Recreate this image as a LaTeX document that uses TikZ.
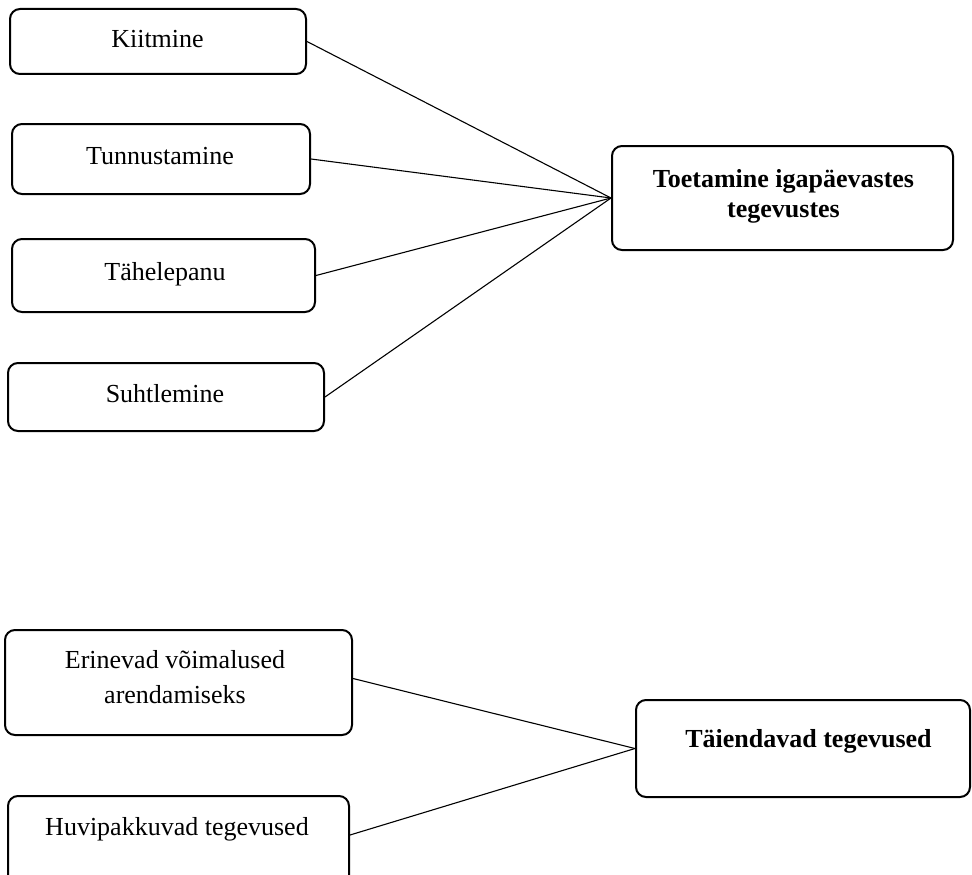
\documentclass[tikz,border=0pt]{standalone}
\usepackage{fontspec}
\setmainfont{Liberation Serif}
\begin{document}
\begin{tikzpicture}[x=1pt,y=-1pt,
  box/.style={draw=black, line width=2pt, rounded corners=10pt, inner sep=0pt},
  lbl/.style={inner sep=0pt, anchor=base, font=\fontsize{26}{30}\selectfont},
  link/.style={draw=black, line width=1.1pt}]
  \useasboundingbox (0,0) rectangle (972,875);
  \clip (0,0) rectangle (972,875);

  % upper group: boxes
  \node[box, minimum width=296pt, minimum height=65pt] (kiit) at (158,41.5) {};
  \node[box, minimum width=298pt, minimum height=70pt] (tunn) at (161,159) {};
  \node[box, minimum width=303pt, minimum height=73pt] (tahe) at (163.5,275.5) {};
  \node[box, minimum width=316pt, minimum height=68pt] (suht) at (166,397) {};
  \node[box, minimum width=341pt, minimum height=104pt] (toet) at (782.5,198) {};

  % upper group: texts
  \node[lbl] (kiit-t) at (157.5,48) {Kiitmine};
  \node[lbl] (tunn-t) at (160,164) {Tunnustamine};
  \node[lbl] (tahe-t) at (165,280) {Tähelepanu};
  \node[lbl] (suht-t) at (165,402) {Suhtlemine};
  \node[lbl, font=\fontsize{26}{30}\selectfont\bfseries] (toet-t) at (783.5,187)
    {\begin{tabular}[t]{@{}c@{}}Toetamine igapäevastes\\tegevustes\end{tabular}};

  % upper group: connectors
  \draw[link] (kiit.east) -- (toet.west);
  \draw[link] (tunn.east) -- (toet.west);
  \draw[link] (tahe.east) -- (toet.west);
  \draw[link] (suht.east) -- (toet.west);

  % lower group: boxes
  \node[box, minimum width=347pt, minimum height=105pt] (erin) at (178.5,682.5) {};
  \node[box, minimum width=341pt, minimum height=92pt] (huvi) at (178.5,842) {};
  \node[box, minimum width=334pt, minimum height=97pt] (taie) at (803,748.5) {};

  % lower group: texts
  \node[lbl, font=\fontsize{26}{35}\selectfont] (erin-t) at (175,668)
    {\begin{tabular}[t]{@{}c@{}}Erinevad võimalused\\arendamiseks\end{tabular}};
  \node[lbl] (huvi-t) at (177,835) {Huvipakkuvad tegevused};
  \node[lbl, font=\fontsize{26}{30}\selectfont\bfseries] (taie-t) at (808.5,747) {Täiendavad tegevused};

  % lower group: connectors
  \draw[link] ([yshift=4pt]erin.east) -- (taie.west);
  \draw[link] ([yshift=7pt]huvi.east) -- (taie.west);
\end{tikzpicture}
\end{document}
